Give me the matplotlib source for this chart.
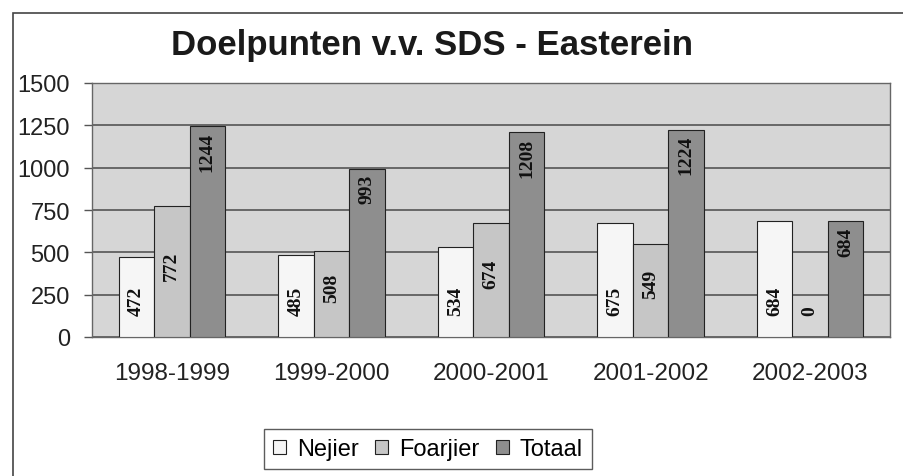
import numpy as np
import matplotlib
matplotlib.use("Agg")
import matplotlib.pyplot as plt
from matplotlib.patches import Rectangle

# data
seasons = ['1998-1999', '1999-2000', '2000-2001', '2001-2002', '2002-2003']
nejier = [472, 485, 534, 675, 684]
foarjier = [772, 508, 674, 549, 0]
totaal = [1244, 993, 1208, 1224, 684]
series_names = ['Nejier', 'Foarjier', 'Totaal']
yticks = [0, 250, 500, 750, 1000, 1250, 1500]

colors = ['#f6f6f6', '#c6c6c6', '#8e8e8e']

plt.rcParams['font.family'] = ['Liberation Sans', 'DejaVu Sans']

fig = plt.figure(figsize=(9.04, 4.77), dpi=100)
fig.patch.set_facecolor('white')

# outer chart frame (only top and left edges are visible in the scan)
W, H = 904, 477
frame = Rectangle((13 / W, -0.05), 1.1, 1 - 14 / H + 0.05, transform=fig.transFigure,
                  fill=False, edgecolor='#444444', linewidth=1.2)
fig.patches.append(frame)

ax = fig.add_axes([92 / W, 1 - 338 / H, 798 / W, 254 / H])
ax.set_facecolor('#d6d6d6')

x = np.arange(len(seasons))
bw = 1 / 4.5
for i, (vals, name) in enumerate(zip([nejier, foarjier, totaal], series_names)):
    ax.bar(x + (i - 1) * bw, vals, bw, color=colors[i], edgecolor='#222222',
           linewidth=0.8, label=name, zorder=3)

# value labels, rotated as in the original
lab = dict(rotation=90, ha='center', family='Liberation Serif', fontweight='bold',
           fontsize=14, color='#111111', zorder=4)
for i in range(len(seasons)):
    ax.text(x[i] - bw, 215, str(nejier[i]), va='center', **lab)
    ax.text(x[i], max(foarjier[i] / 2 + 40, 160), str(foarjier[i]), va='center', **lab)
    ax.text(x[i] + bw, totaal[i] - 30, str(totaal[i]), va='top', **lab)

ax.set_xlim(-0.5, len(seasons) - 0.5)
ax.set_ylim(0, 1500)
ax.set_yticks(yticks)
ax.set_yticklabels([str(v) for v in yticks], fontsize=17, color='#222222')
ax.yaxis.grid(True, color='#4a4a4a', linewidth=1.1, zorder=1)
ax.tick_params(axis='y', length=6, width=1, color='#555555', pad=10)
ax.set_xticks(x)
ax.set_xticklabels(seasons, fontsize=17.5, color='#222222')
ax.tick_params(axis='x', length=0, pad=18)
for s in ax.spines.values():
    s.set_color('#666666')
    s.set_linewidth(1.0)

fig.text(432 / W, 1 - 46 / H, 'Doelpunten v.v. SDS - Easterein', ha='center', va='center',
         fontsize=25, fontweight='bold', color='#1a1a1a')

leg = ax.legend(loc='center', bbox_to_anchor=(428 / W, 1 - 450 / H),
                bbox_transform=fig.transFigure, ncol=3, fontsize=17, frameon=True,
                fancybox=False, edgecolor='#333333', handlelength=0.55, handleheight=0.55,
                handletextpad=0.45, columnspacing=0.7, borderpad=0.4)
leg.get_frame().set_linewidth(1.0)

fig.savefig('out.png', dpi=100)
